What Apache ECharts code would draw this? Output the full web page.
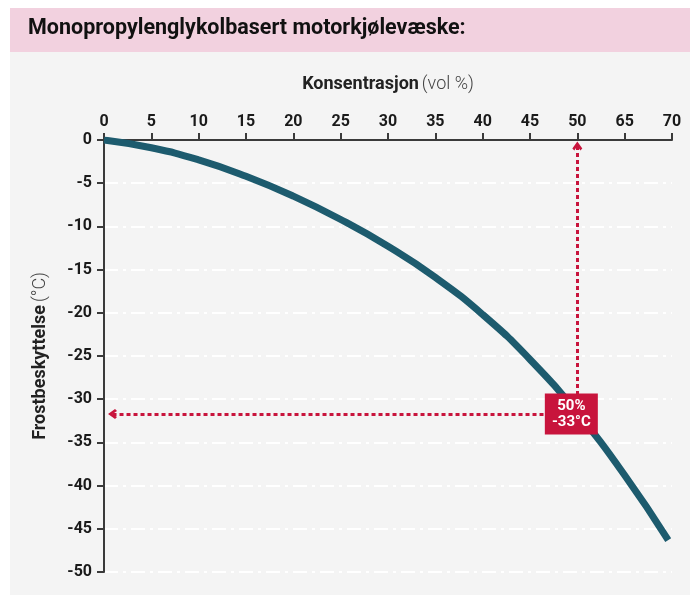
<!DOCTYPE html>
<html>
<head>
<meta charset="utf-8">
<script src="https://cdn.jsdelivr.net/npm/echarts@6/dist/echarts.min.js"></script>
<style>
html,body{margin:0;padding:0;background:#fff;}
#c{width:690px;height:597px;}
</style>
</head>
<body>
<div id="c"></div>
<script>
// ---- data ----
const titleText = 'Monopropylenglykolbasert motorkjølevæske:';
const xTickLabels = ['0','5','10','15','20','25','30','35','40','45','50','65','70'];
const yTickValues = [0,-5,-10,-15,-20,-25,-30,-35,-40,-45,-50];
const concentration = [0, 5, 10, 15, 20, 25, 30, 35, 40, 45, 50, 55, 59.6];
const frostTemp     = [0, -0.9, -2.3, -4.2, -6.5, -9.2, -12.3, -15.9, -20.2, -25.4, -31.6, -38.8, -46.3];
const annotX = 50;
const annotY = -31.7;
const annotLabel = ['50%', '-33°C'];

const RED = '#c8143c';
const chevron = 'path://M0,7 L5,0 L10,7 L8,9 L5,4.5 L2,9 Z';

const chart = echarts.init(document.getElementById('c'));
chart.setOption({
  animation: false,
  backgroundColor: '#ffffff',
  textStyle: { fontFamily: 'Roboto' },
  graphic: [
    { type: 'rect', left: 10, top: 52, shape: { width: 680, height: 543 }, style: { fill: '#f4f4f4' }, z: -10 },
    { type: 'rect', left: 10, top: 8, shape: { width: 680, height: 44 }, style: { fill: '#f2d1df' }, z: -10 },
    { type: 'text', left: 28, top: 18, style: { text: titleText, font: 'bold 21.5px Roboto', fill: '#111' } }
  ],
  grid: { left: 104, top: 140, right: 18, bottom: 25 },
  xAxis: {
    type: 'value', position: 'top', min: 0, max: 60, interval: 5,
    name: '{b|Konsentrasjon} {l|(vol %)}',
    nameLocation: 'middle', nameGap: 47,
    nameTextStyle: { rich: {
      b: { fontFamily: 'Roboto', fontWeight: 'bold', fontSize: 18, color: '#222' },
      l: { fontFamily: 'Roboto', fontWeight: 300, fontSize: 18, color: '#444' }
    } },
    axisLine: { onZero: false, lineStyle: { color: '#3a3a3a', width: 2 } },
    axisTick: { length: 7, lineStyle: { color: '#3a3a3a', width: 2 } },
    axisLabel: { margin: 10, fontWeight: 'bold', fontSize: 16, color: '#1a1a1a',
      formatter: v => xTickLabels[Math.round(v / 5)] },
    splitLine: { show: false }
  },
  yAxis: {
    type: 'value', min: -50, max: 0, interval: 5,
    name: '{b|Frostbeskyttelse} {l|(°C)}',
    nameLocation: 'middle', nameGap: 55, nameRotate: 90,
    nameTextStyle: { rich: {
      b: { fontFamily: 'Roboto', fontWeight: 'bold', fontSize: 18, color: '#222' },
      l: { fontFamily: 'Roboto', fontWeight: 300, fontSize: 18, color: '#444' }
    } },
    axisLine: { show: true, onZero: false, lineStyle: { color: '#3a3a3a', width: 2 } },
    axisTick: { show: true, length: 7, lineStyle: { color: '#3a3a3a', width: 2 } },
    axisLabel: { margin: 12, fontWeight: 'bold', fontSize: 16, color: '#1a1a1a',
      formatter: v => (yTickValues.indexOf(v) >= 0 ? String(v) : '') },
    splitLine: { show: true, lineStyle: { color: '#ffffff', width: 2, type: [14, 5, 3, 5] } }
  },
  series: [{
    type: 'line',
    data: concentration.map((c, i) => [c, frostTemp[i]]),
    smooth: 0.5,
    showSymbol: false,
    symbol: 'none',
    lineStyle: { color: '#1d5b6e', width: 7, cap: 'butt' },
    z: 3,
    markLine: {
      silent: true,
      z: 4,
      label: { show: false },
      lineStyle: { color: RED, width: 3, type: [4, 3] },
      symbol: [chevron, 'none'],
      symbolSize: [10, 9],
      data: [
        [{ coord: [annotX, -0.7] }, { coord: [annotX, annotY] }],
        [{ coord: [0.9, annotY] }, { coord: [annotX, annotY] }]
      ]
    },
    markPoint: {
      silent: true,
      z: 6,
      data: [{ coord: [annotX, annotY] }],
      symbol: 'rect',
      symbolSize: [53, 41],
      symbolOffset: [-6, 0],
      itemStyle: { color: RED },
      label: { show: true, formatter: annotLabel.join('\n'), color: '#fff',
        fontWeight: 'bold', fontSize: 15, lineHeight: 16, fontFamily: 'Roboto' }
    }
  }]
});
</script>
</body>
</html>
